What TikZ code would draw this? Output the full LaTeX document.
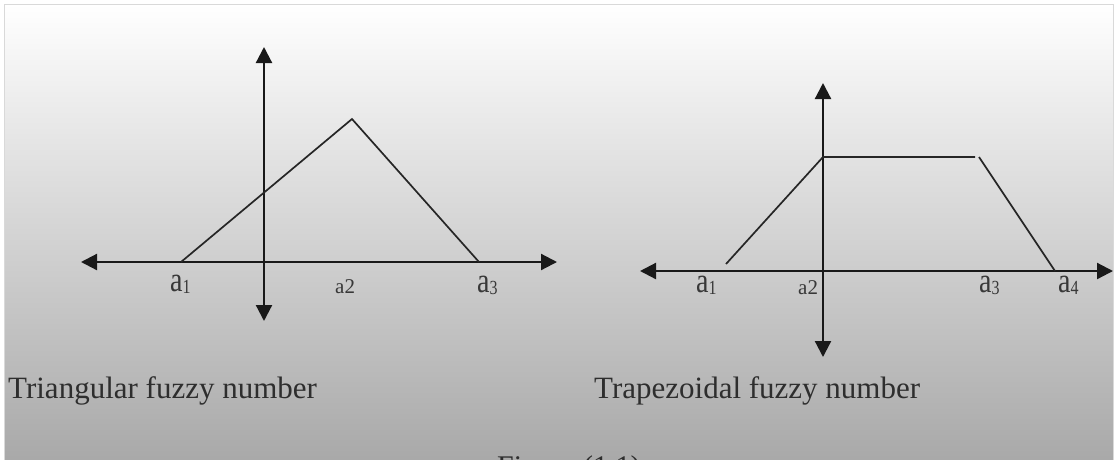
\documentclass[tikz,border=0pt]{standalone}
\usepackage{fontspec}
\setmainfont{Liberation Serif}
\newfontfamily\lblfont[FakeStretch=0.8]{Liberation Serif}
\usetikzlibrary{arrows.meta}

\begin{document}
\begin{tikzpicture}[x=1pt,y=-1pt,
  axis/.style={line width=2.2pt,black!90,{Triangle[length=16pt,width=16pt]}-{Triangle[length=16pt,width=16pt]}},
  curve/.style={line width=1.7pt,black!85,line join=miter},
  lbl/.style={inner sep=0pt,anchor=base west,text=black!78,font=\lblfont\fontsize{35}{35}\selectfont},
  sml/.style={inner sep=0pt,anchor=base west,text=black!78,font=\fontsize{21}{21}\selectfont},
  captxt/.style={inner sep=0pt,anchor=base west,text=black!82,font=\fontsize{31}{31}\selectfont}]
\useasboundingbox (0,0) rectangle (1116,459);
\clip (0,0) rectangle (1116,459);
\fill[white] (0,0) rectangle (1116,459);
\shade[top color=white,middle color=black!11,bottom color=black!34,draw=black!15] (4,4) rectangle (1113,462);
% triangular
\coordinate (lxl) at (81,262); \coordinate (lxr) at (557,262);
\coordinate (lyt) at (264,47); \coordinate (lyb) at (264,321);
\coordinate (t1) at (181,262); \coordinate (t2) at (352,119); \coordinate (t3) at (479,262);
\draw[axis] (lxl)--(lxr); \draw[axis] (lyt)--(lyb);
\draw[curve] (t1)--(t2)--(t3);
\node[lbl] (la1) at (170,291) {a\raisebox{-2pt}{\fontsize{20}{20}\selectfont 1}};
\node[sml] (la2) at (335,293) {a2};
\node[lbl] (la3) at (477,292) {a\raisebox{-2pt}{\fontsize{20}{20}\selectfont 3}};
\node[captxt] (lcap) at (8,398) {Triangular fuzzy number};
% trapezoidal
\coordinate (rxl) at (640,271); \coordinate (rxr) at (1113,271);
\coordinate (ryt) at (823,83); \coordinate (ryb) at (823,357);
\coordinate (p1) at (726,264); \coordinate (p2) at (823,157);
\coordinate (p3) at (975,157); \coordinate (p4) at (979,157); \coordinate (p5) at (1055,271);
\draw[axis] (rxl)--(rxr); \draw[axis] (ryt)--(ryb);
\draw[curve] (p1)--(p2)--(p3); \draw[curve] (p4)--(p5);
\node[lbl] (ra1) at (696,292) {a\raisebox{-2pt}{\fontsize{20}{20}\selectfont 1}};
\node[sml] (ra2) at (798,294) {a2};
\node[lbl] (ra3) at (979,292) {a\raisebox{-2pt}{\fontsize{20}{20}\selectfont 3}};
\node[lbl] (ra4) at (1058,292) {a\raisebox{-2pt}{\fontsize{20}{20}\selectfont 4}};
\node[captxt] (rcap) at (594,398) {Trapezoidal fuzzy number};
\node[captxt,font=\fontsize{30}{30}\selectfont] (fig) at (497,476) {Figure (1.1)};
\end{tikzpicture}
\end{document}
